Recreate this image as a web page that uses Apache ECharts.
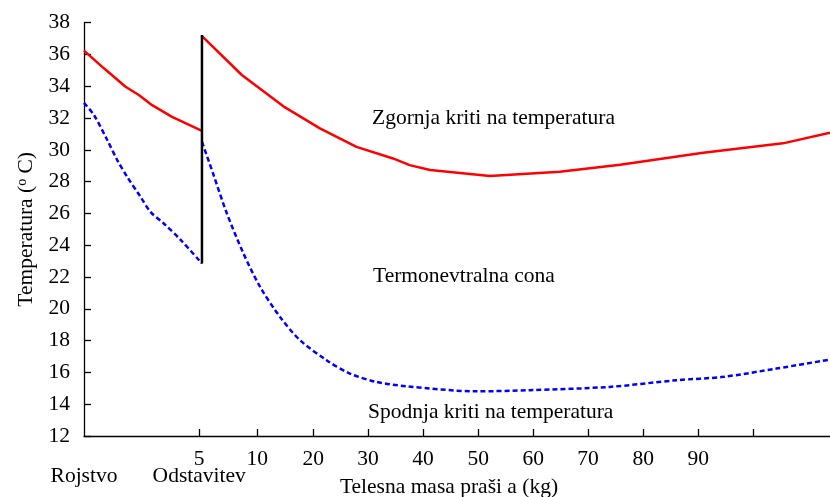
<!DOCTYPE html>
<html>
<head>
<meta charset="utf-8">
<script src="https://cdn.jsdelivr.net/npm/echarts@6/dist/echarts.min.js"></script>
<style>html,body{margin:0;padding:0;background:#fff;}#c{width:830px;height:497px;}</style>
</head>
<body>
<div id="c"></div>
<script>
// x values are positions along the (non-linear) weight axis, in tick-spacing units from "Rojstvo"
const xTickPos    = [2.08, 3.13, 4.14, 5.13, 6.12, 7.12, 8.11, 9.10, 10.10, 11.09, 12.08];
const xTickLabels = ['5', '10', '20', '30', '40', '50', '60', '70', '80', '90', ''];
const birthLabel = 'Rojstvo';
const weaningLabel = 'Odstavitev';
const weaningPos = 2.13;

// Upper critical temperature (red), before and after weaning
const upperBeforeX = [0, 0.36, 0.75, 0.99, 1.23, 1.59, 2.13];
const upperBeforeY = [36.24, 35.13, 33.97, 33.45, 32.81, 32.08, 31.20];
const upperAfterX  = [2.14, 2.85, 3.63, 4.26, 4.92, 5.58, 5.88, 6.25, 7.33, 8.59, 9.68, 11.18, 12.62, 13.47];
const upperAfterY  = [37.12, 34.71, 32.67, 31.35, 30.19, 29.46, 29.04, 28.73, 28.35, 28.62, 29.07, 29.82, 30.41, 31.08];

// Lower critical temperature (blue dashed), before and after weaning
const lowerBeforeX = [0, 0.18, 0.42, 0.60, 0.78, 1.02, 1.20, 1.44, 1.75, 2.13];
const lowerBeforeY = [32.96, 32.19, 30.62, 29.36, 28.30, 27.05, 26.10, 25.37, 24.32, 22.85];
const lowerAfterX  = [2.13, 2.33, 2.58, 2.88, 3.18, 3.54, 3.90, 4.38, 4.80, 5.28, 5.82, 7.09, 8.05, 9.49, 10.70, 11.54, 12.50, 13.47];
const lowerAfterY  = [30.51, 28.52, 26.00, 23.48, 21.38, 19.49, 18.03, 16.77, 15.93, 15.40, 15.13, 14.81, 14.88, 15.09, 15.51, 15.72, 16.24, 16.81];

// Weaning jump line
const weaningLineY = [37.23, 22.85];

const annotations = ['Zgornja kriti na temperatura', 'Termonevtralna cona', 'Spodnja kriti na temperatura'];
const yTitle = 'Temperatura (';
const xTitle = 'Telesna masa praši a (kg)';

const zip = (xs, ys) => xs.map((x, i) => [x, ys[i]]);
const FONT = "'Liberation Serif','Times New Roman',serif";
const FS = 21.5;

const labelPos = [0].concat(xTickPos);
const labelMap = {};
labelMap[0] = '\n' + birthLabel;
xTickPos.forEach((p, i) => { labelMap[p] = xTickLabels[i] + (i === 0 ? '\n' + weaningLabel : ''); });

const chart = echarts.init(document.getElementById('c'), null, {renderer: 'canvas'});
chart.setOption({
  animation: false,
  backgroundColor: '#fff',
  grid: {left: 84, right: 0, top: 22.7, bottom: 61, containLabel: false, outerBoundsMode: 'none'},
  xAxis: {
    type: 'value', min: 0, max: 13.47,
    splitLine: {show: false},
    axisLine: {show: true, lineStyle: {color: '#000', width: 1.3}},
    axisTick: {show: true, inside: true, length: 7, customValues: xTickPos, lineStyle: {color: '#000', width: 1.3}},
    axisLabel: {
      customValues: labelPos,
      formatter: v => { for (const k in labelMap) { if (Math.abs(+k - v) < 1e-6) return labelMap[k]; } return ''; },
      color: '#000', fontFamily: FONT, fontSize: FS, lineHeight: 17, margin: 15, showMinLabel: true, showMaxLabel: true
    },
    name: xTitle, nameLocation: 'middle', nameGap: 40, nameMoveOverlap: false,
    nameTextStyle: {color: '#000', fontFamily: FONT, fontSize: FS, padding: [0, 16, 0, 0]}
  },
  yAxis: {
    type: 'value', min: 12, max: 38, interval: 2,
    splitLine: {show: false},
    axisLine: {show: true, lineStyle: {color: '#000', width: 1.3}},
    axisTick: {show: true, inside: true, length: 7, lineStyle: {color: '#000', width: 1.3}},
    axisLabel: {color: '#000', fontFamily: FONT, fontSize: FS, margin: 14},
    name: yTitle + '{sup|o} C)', nameLocation: 'middle', nameGap: 46, nameMoveOverlap: false,
    nameTextStyle: {color: '#000', fontFamily: FONT, fontSize: FS,
      rich: {sup: {fontSize: 14, fontFamily: FONT, color: '#000', padding: [0, 0, 9, 0]}}}
  },
  series: [
    {type: 'line', data: zip(upperBeforeX, upperBeforeY), symbol: 'none', lineStyle: {color: '#ff0000', width: 2.5}},
    {type: 'line', data: zip(upperAfterX, upperAfterY), symbol: 'none', lineStyle: {color: '#ff0000', width: 2.5}},
    {type: 'line', data: zip(lowerBeforeX, lowerBeforeY), symbol: 'none', smooth: 0.3, lineStyle: {color: '#0000ff', width: 2.5, type: [5, 3]}},
    {type: 'line', data: zip(lowerAfterX, lowerAfterY), symbol: 'none', smooth: 0.3, lineStyle: {color: '#0000ff', width: 2.5, type: [5, 3]}},
    {type: 'line', data: weaningLineY.map(y => [weaningPos, y]), symbol: 'none', lineStyle: {color: '#000', width: 2.5}, z: 3}
  ],
  graphic: [
    {type: 'text', left: 372, top: 107, style: {text: annotations[0], fill: '#000', font: FS + 'px ' + FONT}},
    {type: 'text', left: 373, top: 265, style: {text: annotations[1], fill: '#000', font: FS + 'px ' + FONT}},
    {type: 'text', left: 368, top: 401, style: {text: annotations[2], fill: '#000', font: FS + 'px ' + FONT}}
  ]
});
</script>
</body>
</html>
